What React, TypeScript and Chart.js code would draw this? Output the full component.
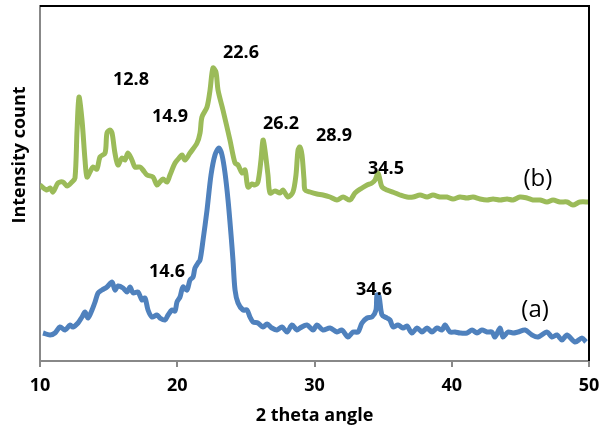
import React, { useEffect, useRef } from "react";
import { Chart, registerables } from "chart.js";

Chart.register(...registerables);

const FONT = "'Open Sans', sans-serif";

// Series (b) – green
const bX = [10.00, 10.49, 10.73, 10.95, 11.31, 11.68, 11.97, 12.33, 12.55, 12.70, 12.84, 13.06, 13.28, 13.42, 13.64, 13.86, 14.15, 14.37, 14.74, 14.88, 15.10, 15.25, 15.46, 15.68, 15.97, 16.19, 16.41, 16.70, 16.92, 17.29, 17.50, 17.80, 18.23, 18.52, 18.74, 18.96, 19.25, 19.47, 19.84, 20.20, 20.35, 20.56, 20.93, 21.44, 21.66, 21.80, 22.17, 22.39, 22.60, 22.82, 22.97, 23.33, 23.84, 24.21, 24.43, 24.72, 24.94, 25.15, 25.45, 25.66, 25.88, 26.10, 26.25, 26.39, 26.61, 26.76, 27.12, 27.49, 27.70, 28.07, 28.43, 28.65, 28.80, 28.94, 29.09, 29.24, 29.31, 29.67, 30.18, 30.62, 31.13, 31.64, 32.08, 32.59, 32.95, 33.46, 33.83, 34.19, 34.41, 34.63, 34.77, 34.92, 35.28, 35.87, 36.23, 36.74, 37.18, 37.69, 38.20, 38.63, 39.14, 39.65, 40.09, 40.60, 41.11, 41.55, 42.06, 42.57, 43.01, 43.52, 44.03, 44.46, 44.97, 45.48, 45.92, 46.43, 46.94, 47.38, 47.89, 48.40, 48.83, 49.34, 50.00];
const bY = [176, 171, 173, 169, 178, 179, 175, 179, 183, 231, 264, 241, 201, 184, 189, 194, 192, 204, 208, 228, 231, 228, 208, 196, 203, 201, 208, 201, 194, 194, 191, 186, 184, 176, 179, 182, 179, 186, 198, 204, 206, 201, 208, 218, 228, 244, 254, 271, 293, 289, 271, 251, 221, 198, 196, 188, 191, 174, 177, 176, 179, 201, 221, 211, 186, 168, 170, 168, 171, 164, 169, 186, 211, 214, 206, 181, 171, 169, 167, 166, 164, 161, 164, 161, 168, 173, 176, 178, 181, 188, 181, 174, 171, 168, 166, 164, 164, 166, 164, 166, 164, 164, 162, 164, 163, 164, 162, 161, 162, 161, 162, 161, 164, 163, 161, 161, 159, 161, 159, 159, 156, 159, 159];

// Series (a) – blue
const aX = [10.22, 10.73, 11.09, 11.46, 11.82, 12.19, 12.40, 12.77, 13.06, 13.28, 13.50, 13.79, 14.01, 14.23, 14.52, 14.88, 15.25, 15.46, 15.68, 16.05, 16.34, 16.56, 16.78, 17.14, 17.43, 17.65, 17.87, 18.16, 18.52, 18.74, 19.11, 19.33, 19.62, 19.84, 19.98, 20.20, 20.42, 20.71, 20.93, 21.15, 21.29, 21.51, 21.66, 21.88, 22.17, 22.46, 22.75, 23.04, 23.26, 23.48, 23.70, 23.92, 24.06, 24.21, 24.43, 24.79, 25.08, 25.30, 25.52, 25.88, 26.25, 26.54, 26.90, 27.27, 27.63, 28.00, 28.36, 28.72, 28.94, 29.45, 29.89, 30.18, 30.62, 31.13, 31.64, 32.00, 32.44, 32.81, 33.17, 33.46, 33.83, 34.19, 34.48, 34.55, 34.70, 34.92, 35.28, 35.50, 35.72, 36.08, 36.45, 36.74, 37.10, 37.47, 37.83, 38.20, 38.56, 38.93, 39.29, 39.51, 39.87, 40.24, 40.60, 41.11, 41.48, 41.84, 42.20, 42.57, 42.93, 43.15, 43.52, 43.73, 44.10, 44.46, 44.83, 45.34, 45.85, 46.28, 46.94, 47.30, 47.67, 48.03, 48.40, 48.98, 49.49, 49.78];
const aY = [28, 26, 28, 34, 31, 36, 34, 38, 44, 49, 43, 51, 59, 68, 71, 74, 79, 71, 75, 73, 69, 74, 68, 69, 61, 63, 51, 44, 46, 43, 41, 46, 51, 50, 59, 64, 74, 71, 81, 84, 93, 98, 101, 121, 151, 186, 206, 213, 206, 188, 161, 126, 101, 71, 58, 51, 51, 44, 39, 38, 34, 37, 33, 31, 34, 29, 36, 31, 33, 36, 31, 36, 31, 33, 29, 31, 24, 29, 29, 38, 43, 44, 51, 66, 65, 46, 43, 41, 34, 36, 33, 35, 28, 33, 29, 33, 29, 33, 31, 36, 29, 29, 28, 28, 31, 28, 31, 29, 29, 24, 33, 24, 29, 28, 29, 31, 26, 24, 29, 24, 26, 21, 26, 19, 23, 19];

// Peak annotations
const peakText = ["12.8", "14.9", "22.6", "26.2", "28.9", "34.5", "14.6", "34.6"];
const peakX = [16.63, 19.47, 24.64, 27.56, 31.42, 35.21, 19.25, 34.34];
const peakY = [281, 244, 308, 237, 225, 192, 89, 71];

// Series names
const nameText = ["(b)", "(a)"];
const nameX = [46.28, 46.07];
const nameY = [182, 51];

const xTicks = [10, 20, 30, 40, 50];

const GREEN = "#9BBB59";
const BLUE = "#4F81BD";

const annotPlugin = {
  id: "annot",
  afterDatasetsDraw(chart: any) {
    const { ctx, chartArea, scales } = chart;
    const xs = scales.x;
    const ys = scales.y;
    ctx.save();
    // top & right frame
    ctx.strokeStyle = "#000";
    ctx.lineWidth = 2;
    ctx.beginPath();
    ctx.moveTo(chartArea.left, chartArea.top);
    ctx.lineTo(chartArea.right, chartArea.top);
    ctx.lineTo(chartArea.right, chartArea.bottom);
    ctx.stroke();

    ctx.fillStyle = "#000";
    ctx.textAlign = "center";
    ctx.textBaseline = "middle";
    ctx.font = `bold 18px ${FONT}`;
    peakText.forEach((t, i) => {
      ctx.fillText(t, xs.getPixelForValue(peakX[i]), ys.getPixelForValue(peakY[i]));
    });
    ctx.font = `24px ${FONT}`;
    nameText.forEach((t, i) => {
      ctx.fillText(t, xs.getPixelForValue(nameX[i]), ys.getPixelForValue(nameY[i]));
    });

    // y-axis title
    ctx.save();
    ctx.translate(25, 155);
    ctx.rotate(-Math.PI / 2);
    ctx.textBaseline = "alphabetic";
    ctx.font = `bold 18px ${FONT}`;
    ctx.fillText("Intensity count", 0, 0);
    ctx.restore();
    ctx.restore();
  },
};

export default function App() {
  const ref = useRef<HTMLCanvasElement>(null);
  useEffect(() => {
    document.body.style.margin = "0";
    const chart = new Chart(ref.current!, {
      type: "line",
      data: {
        datasets: [
          {
            label: "(b)",
            data: bX.map((x, i) => ({ x, y: bY[i] })),
            borderColor: GREEN,
            borderWidth: 5,
            pointRadius: 0,
            tension: 0.3,
            fill: false,
          },
          {
            label: "(a)",
            data: aX.map((x, i) => ({ x, y: aY[i] })),
            borderColor: BLUE,
            borderWidth: 5,
            pointRadius: 0,
            tension: 0.3,
            fill: false,
          },
        ],
      },
      options: {
        animation: false,
        responsive: false,
        layout: { padding: { top: 6, right: 0, left: 0, bottom: 0 } },
        plugins: { legend: { display: false }, tooltip: { enabled: false } },
        scales: {
          x: {
            type: "linear",
            min: 10,
            max: 50,
            afterBuildTicks: (s: any) => {
              s.ticks = xTicks.map((v) => ({ value: v }));
            },
            afterFit: (s: any) => {
              s.height = 67;
              s.paddingRight = 11;
              s.paddingLeft = 0;
            },
            ticks: {
              color: "#000",
              font: { family: FONT, size: 18, weight: "bold" },
              padding: 8,
              maxRotation: 0,
            },
            grid: {
              display: true,
              drawOnChartArea: false,
              drawTicks: true,
              tickLength: 6,
              color: "#888",
              lineWidth: 2,
            },
            border: { display: true, color: "#888", width: 2 },
            title: {
              display: true,
              text: "2 theta angle",
              color: "#000",
              font: { family: FONT, size: 18, weight: "bold" },
              padding: { top: 0, bottom: 1 },
            },
          },
          y: {
            type: "linear",
            min: 0,
            max: 355,
            afterFit: (s: any) => {
              s.width = 40;
            },
            ticks: { display: false },
            grid: { display: true, drawOnChartArea: false, drawTicks: false },
            border: { display: true, color: "#888", width: 2 },
            title: { display: false },
          },
        },
      },
      plugins: [annotPlugin],
    });
    return () => chart.destroy();
  }, []);
  return (
    <div style={{ position: "absolute", left: 0, top: 0, width: 600, height: 428 }}>
      <canvas ref={ref} width={600} height={428} />
    </div>
  );
}
